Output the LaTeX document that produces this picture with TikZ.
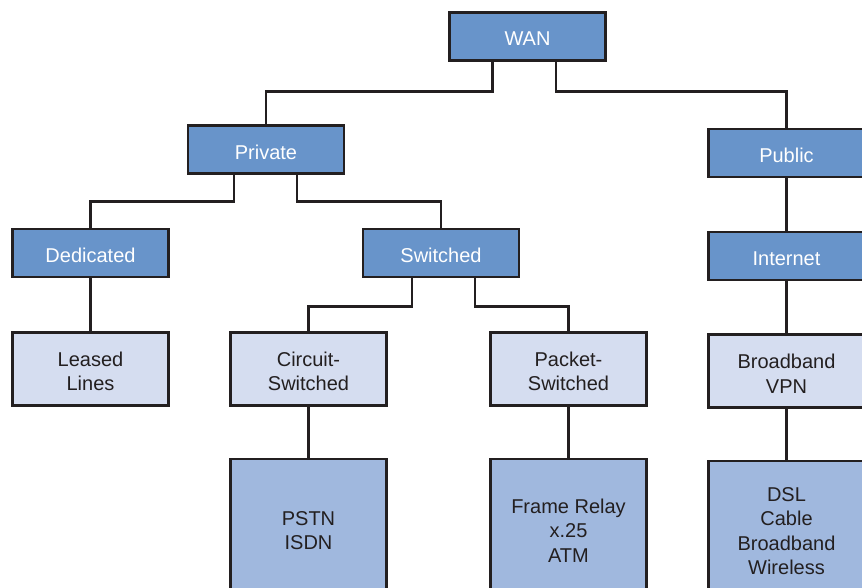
\documentclass[tikz,border=0pt]{standalone}
\usepackage{fontspec}
\setmainfont{Liberation Sans}
\definecolor{darkbox}{HTML}{6894CA}
\definecolor{lightbox}{HTML}{D5DDF0}
\definecolor{midbox}{HTML}{A0B8DE}
\definecolor{inkc}{HTML}{231F20}
\tikzset{
  basebox/.style={draw=inkc, line width=2.8pt, minimum width=156pt, inner sep=0pt},
  txt/.style={align=center, inner sep=0pt, yshift=-2.5pt, font=\fontsize{20}{24.5}\selectfont},
  txtw/.style={txt, text=white},
  txtk/.style={txt, text=inkc},
  darknode/.style={basebox, fill=darkbox, minimum height=48pt},
  lightnode/.style={basebox, fill=lightbox, minimum height=73pt},
  midnode/.style={basebox, fill=midbox, minimum height=138pt},
  conn/.style={draw=inkc, line width=2.6pt}
}
\begin{document}
\begin{tikzpicture}[x=1pt, y=-1pt]
\useasboundingbox (0,0) rectangle (862,587);
\clip (0,0) rectangle (862,587);
\fill[white] (0,0) rectangle (862,587);
\node[darknode, label={[txtw]center:WAN}] (wan) at (527.5,36.5) {};
\node[darknode, label={[txtw]center:Private}] (private) at (266,149.5) {};
\node[darknode, label={[txtw]center:Public}] (public) at (786.5,153) {};
\node[darknode, label={[txtw]center:Dedicated}] (dedicated) at (90.5,253) {};
\node[darknode, label={[txtw]center:Switched}] (switched) at (441,253) {};
\node[darknode, label={[txtw]center:Internet}] (internet) at (786.5,256) {};
\node[lightnode, label={[txtk]center:Leased\\Lines}] (leased) at (90.5,369) {};
\node[lightnode, label={[txtk]center:Circuit-\\Switched}] (circuit) at (308.5,369) {};
\node[lightnode, label={[txtk]center:Packet-\\Switched}] (packet) at (568.5,369) {};
\node[lightnode, label={[txtk]center:Broadband\\VPN}] (bvpn) at (786.5,371) {};
\node[midnode, label={[txtk]center:PSTN\\ISDN}] (pstn) at (308.5,528) {};
\node[midnode, label={[txtk]center:Frame Relay\\x.25\\ATM}] (frame) at (568.5,528) {};
\node[midnode, label={[txtk, yshift=1.5pt]center:DSL\\Cable\\Broadband\\Wireless}] (dsl) at (786.5,530) {};
\draw[conn] ([xshift=-35pt]wan.south) -- ++(0,29.5) -| (private.north);
\draw[conn] ([xshift=28.5pt]wan.south) -- ++(0,29.5) -| (public.north);
\draw[conn] ([xshift=-32pt]private.south) -- ++(0,26.5) -| (dedicated.north);
\draw[conn] ([xshift=31pt]private.south) -- ++(0,26.5) -| (switched.north);
\draw[conn] ([xshift=-29pt]switched.south) -- ++(0,28) -| (circuit.north);
\draw[conn] ([xshift=34pt]switched.south) -- ++(0,28) -| (packet.north);
\draw[conn] (dedicated.south) -- (leased.north);
\draw[conn] (circuit.south) -- (pstn.north);
\draw[conn] (packet.south) -- (frame.north);
\draw[conn] (public.south) -- (internet.north);
\draw[conn] (internet.south) -- (bvpn.north);
\draw[conn] (bvpn.south) -- (dsl.north);
\end{tikzpicture}
\end{document}
